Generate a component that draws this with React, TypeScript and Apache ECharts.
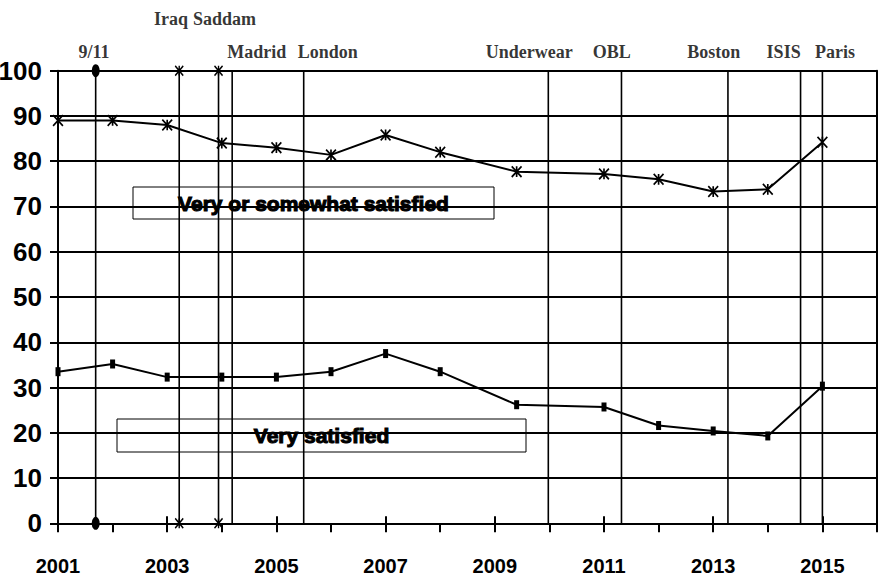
import React, { useEffect, useRef } from 'react';
import * as echarts from 'echarts';

// ---- data ----
const surveyYears = [2001, 2002, 2003, 2004, 2005, 2006, 2007, 2008, 2009.4, 2011, 2012, 2013, 2014, 2015];
const somewhatSatisfied = [89, 89, 88, 84, 83, 81.4, 85.8, 82, 77.7, 77.2, 76, 73.3, 73.8, 84.2];
const verySatisfied = [33.5, 35.2, 32.3, 32.3, 32.3, 33.5, 37.5, 33.5, 26.2, 25.7, 21.6, 20.4, 19.3, 30.3];

const eventNames = ['9/11', 'Iraq', 'Saddam', 'Madrid', 'London', 'Underwear', 'OBL', 'Boston', 'ISIS', 'Paris'];
const eventDates = [2001.69, 2003.22, 2003.94, 2004.19, 2005.5, 2009.98, 2011.32, 2013.27, 2014.6, 2015.0];
const eventMarkers = ['dot', 'star', 'star', 'none', 'none', 'none', 'none', 'none', 'none', 'none'];
const eventLabelYears = [2001.66, 2003.07, 2004.05, 2004.64, 2005.94, 2009.63, 2011.14, 2013.01, 2014.29, 2015.23];
const eventLabelRows = [0, 1, 1, 0, 0, 0, 0, 0, 0, 0];

const seriesNames = ['Very or somewhat satisfied', 'Very satisfied'];

const X_MIN = 2001;
const X_MAX = 2016;
const Y_MIN = 0;
const Y_MAX = 100;
const Y_STEP = 10;

const STAR =
  'path://M-0.17,1L-0.17,-1L0.17,-1L0.17,1Z' +
  'M0.88,1.12L-1.12,-0.88L-0.88,-1.12L1.12,0.88Z' +
  'M-1.12,0.88L0.88,-1.12L1.12,-0.88L-0.88,1.12Z';

const AXIS_FONT = '"Liberation Sans Narrow", "Arial Narrow", "Liberation Sans", sans-serif';

export default function App() {
  const ref = useRef<HTMLDivElement>(null);

  useEffect(() => {
    if (!ref.current) return;
    const chart = echarts.init(ref.current, null, { renderer: 'svg' });

    const eventSeries = eventDates.map((d, i) => {
      const m = eventMarkers[i];
      return {
        type: 'line',
        name: eventNames[i],
        data: [[d, Y_MIN], [d, Y_MAX]],
        symbol: m === 'dot' ? 'circle' : m === 'star' ? STAR : 'none',
        symbolSize: m === 'dot' ? [8, 13] : [9, 11],
        showSymbol: m !== 'none',
        itemStyle: { color: '#000' },
        lineStyle: { color: '#000', width: 1.6 },
        z: 2,
        silent: true,
        clip: false,
      };
    });

    const labelSeries = {
      type: 'scatter',
      data: eventLabelYears.map((x, i) => ({
        value: [x, eventLabelRows[i] === 1 ? 111.5 : 104.1],
        label: { formatter: eventNames[i] },
      })),
      symbolSize: 1,
      itemStyle: { color: 'transparent' },
      clip: false,
      label: {
        show: true,
        position: 'inside',
        color: '#000',
        fontFamily: '"Liberation Serif", "Times New Roman", serif',
        fontWeight: 'bold',
        fontSize: 18,
      },
      z: 5,
    };

    const option: any = {
      animation: false,
      backgroundColor: '#fff',
      grid: { left: 58, right: 6, top: 70.7, bottom: 61.7, containLabel: false, outerBoundsMode: 'none' },
      xAxis: [
        {
          type: 'value',
          min: X_MIN,
          max: X_MAX,
          interval: 1,
          axisLine: { show: true, onZero: false, lineStyle: { color: '#000', width: 2 } },
          axisTick: { show: true, length: 9, lineStyle: { color: '#000', width: 2 } },
          axisLabel: { show: false },
          splitLine: { show: false },
        },
        {
          type: 'value',
          position: 'bottom',
          min: X_MIN,
          max: X_MAX,
          interval: 2,
          axisLine: { show: false },
          axisTick: { show: true, inside: true, length: 7, lineStyle: { color: '#000', width: 2 } },
          axisLabel: {
            show: true,
            margin: 33,
            color: '#000',
            fontFamily: AXIS_FONT,
            fontWeight: 'bold',
            fontSize: 20,
            formatter: (v: number) => (v < X_MAX && (v - X_MIN) % 2 === 0 ? String(v) : ''),
          },
          splitLine: { show: false },
        },
      ],
      yAxis: [
        {
          type: 'value',
          min: Y_MIN,
          max: Y_MAX,
          interval: Y_STEP,
          axisLine: { show: true, lineStyle: { color: '#000', width: 2 } },
          axisTick: { show: true, length: 8, lineStyle: { color: '#000', width: 2 } },
          axisLabel: {
            margin: 16,
            color: '#000',
            fontFamily: AXIS_FONT,
            fontWeight: 'bold',
            fontSize: 26,
          },
          splitLine: { show: true, lineStyle: { color: '#000', width: 2 } },
        },
        {
          type: 'value',
          position: 'right',
          min: Y_MIN,
          max: Y_MAX,
          interval: Y_STEP,
          axisLine: { show: true, lineStyle: { color: '#000', width: 2 } },
          axisTick: { show: false },
          axisLabel: { show: false },
          splitLine: { show: false },
        },
      ],
      series: [
        ...eventSeries,
        {
          type: 'line',
          name: seriesNames[0],
          data: surveyYears.map((x, i) => [x, somewhatSatisfied[i]]),
          symbol: STAR,
          symbolSize: [11, 12],
          itemStyle: { color: '#000' },
          lineStyle: { color: '#000', width: 2 },
          z: 4,
        },
        {
          type: 'line',
          name: seriesNames[1],
          data: surveyYears.map((x, i) => [x, verySatisfied[i]]),
          symbol: 'rect',
          symbolSize: [5, 9],
          itemStyle: { color: '#000' },
          lineStyle: { color: '#000', width: 2 },
          z: 4,
        },
        labelSeries,
      ],
      graphic: [
        {
          type: 'group',
          z: 100,
          children: [
            {
              type: 'rect',
              shape: { x: 133, y: 187, width: 361, height: 32 },
              style: { fill: '#fff', stroke: '#000', lineWidth: 1 },
            },
            {
              type: 'text',
              x: 313.5,
              y: 203,
              style: {
                text: seriesNames[0],
                textAlign: 'center',
                textVerticalAlign: 'middle',
                fill: '#000',
                stroke: '#000',
                lineWidth: 1.1,
                font: 'bold 21px "Liberation Sans", Arial, sans-serif',
              },
            },
            {
              type: 'rect',
              shape: { x: 117, y: 419, width: 409, height: 33 },
              style: { fill: '#fff', stroke: '#000', lineWidth: 1 },
            },
            {
              type: 'text',
              x: 321.5,
              y: 435.5,
              style: {
                text: seriesNames[1],
                textAlign: 'center',
                textVerticalAlign: 'middle',
                fill: '#000',
                stroke: '#000',
                lineWidth: 1.1,
                font: 'bold 21px "Liberation Sans", Arial, sans-serif',
              },
            },
          ],
        },
      ],
    };

    chart.setOption(option);
    return () => chart.dispose();
  }, []);

  return <div ref={ref} style={{ width: 883, height: 585, position: 'absolute', left: 0, top: 0 }} />;
}
